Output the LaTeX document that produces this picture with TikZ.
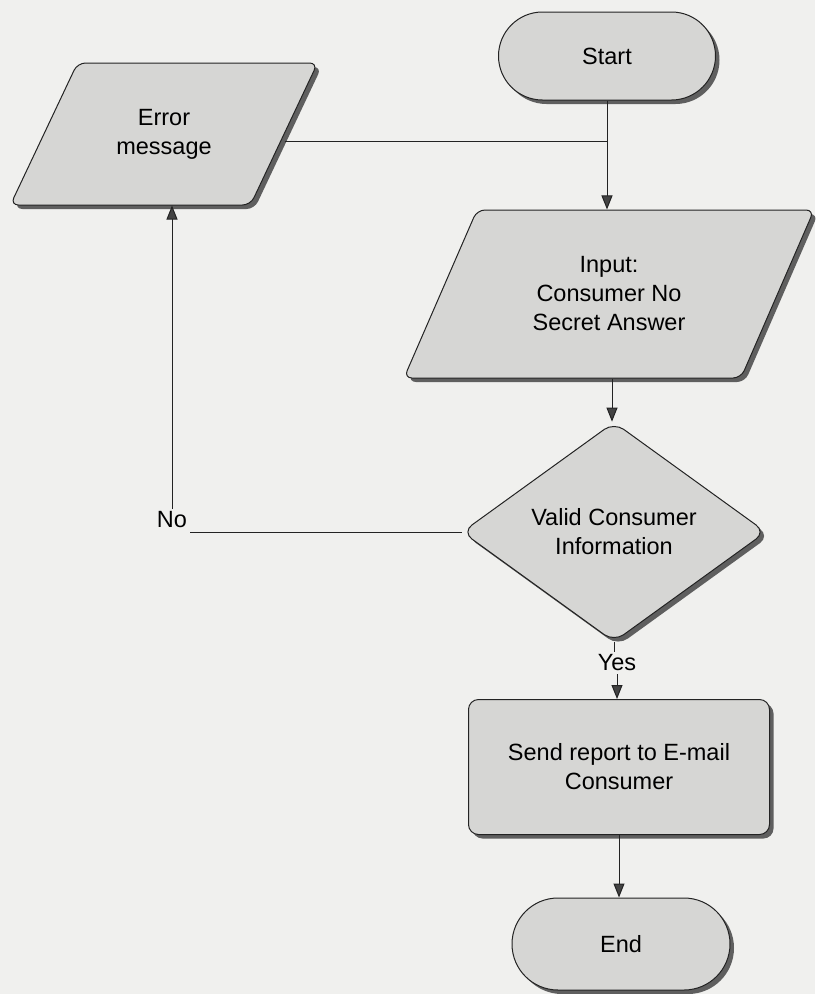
\documentclass[tikz,border=0pt]{standalone}
\usepackage{fontspec}
\setmainfont{Liberation Sans}
\usetikzlibrary{shapes.geometric,shadows,arrows.meta}
\definecolor{bg}{RGB}{240,240,238}
\definecolor{boxfill}{RGB}{214,214,212}
\definecolor{shade}{RGB}{95,95,95}
\definecolor{ink}{RGB}{35,35,35}
\newcommand{\ioText}[3]{\parbox[c][#2][c]{#1}{\centering #3}}
\begin{document}
\begin{tikzpicture}[x=1pt,y=-1pt,
  base/.style={draw=ink, line width=1pt, fill=boxfill, text=black, align=center,
    font=\fontsize{23.5}{29}\selectfont, inner sep=2pt,
    general shadow={fill=shade, shadow xshift=4pt, shadow yshift=-4pt}},
  term/.style={base, rectangle, rounded corners=#1},
  io/.style={base, trapezium, rounded corners=8pt, inner sep=0pt},
  decision/.style={base, diamond, rounded corners=12pt, minimum width=304pt, minimum height=198pt},
  process/.style={base, rectangle, rounded corners=10pt, minimum width=301pt, minimum height=135pt},
  lbl/.style={font=\fontsize{23.5}{29}\selectfont, inner sep=3pt},
  conn/.style={draw=ink, line width=1pt},
  arr/.style={conn, -{Triangle[length=14pt,width=11pt,fill=shade!70!black]}}
]
\fill[bg] (0,0) rectangle (815,994);
\useasboundingbox (0,0) rectangle (815,994);

\node[term=44pt, minimum width=217pt, minimum height=88pt] (start) at (607,56) {Start};
\node[io, trapezium left angle=64.7, trapezium right angle=115.3] (err) at (164,134)
  {\ioText{173pt}{142pt}{Error\\message}};
\node[io, trapezium left angle=66.5, trapezium right angle=113.5] (inp) at (609,294)
  {\ioText{264pt}{168pt}{Input:\\Consumer No\\Secret Answer}};
\node[decision] (dec) at (614,532) {Valid Consumer\\Information};
\node[process] (send) at (619,767) {Send report to E-mail\\Consumer};
\node[term=46pt, minimum width=218pt, minimum height=92pt] (end) at (621,944) {End};

\node[lbl] (no) at (172,520) {No};
\node[lbl] (yes) at (617,663) {Yes};

\draw[arr] (start.south) -- (start.south |- inp.north);
\draw[conn] ([yshift=-7pt]err.east) -- ([yshift=-7pt]err.east -| start.south);
\draw[arr] ([xshift=3pt]inp.south) -- ([xshift=3pt]inp.south |- dec.north);
\draw[conn] (dec.west) -- (dec.west -| no.east);
\draw[arr] (no.north) -- (no.north |- err.south);
\draw[conn] (dec.south) -- (dec.south |- yes.north);
\draw[arr] (yes.south) -- (yes.south |- send.north);
\draw[arr] (send.south) -- (send.south |- end.north);
\end{tikzpicture}
\end{document}
